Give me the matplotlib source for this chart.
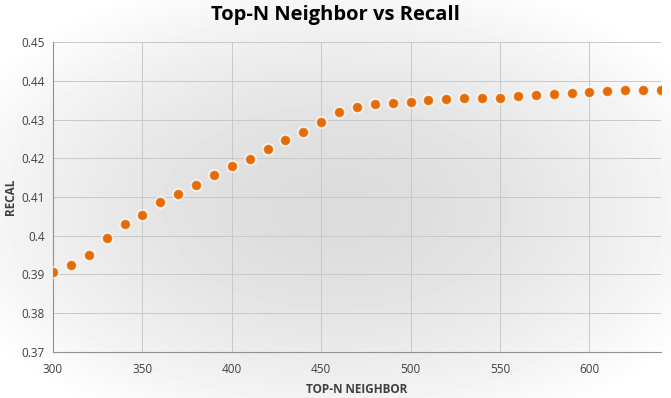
import numpy as np
import matplotlib
matplotlib.use("Agg")
import matplotlib.pyplot as plt

# top-N neighbor vs recall values
top_n = [300, 310, 320, 330, 340, 350, 360, 370, 380, 390,
         400, 410, 420, 430, 440, 450, 460, 470, 480, 490,
         500, 510, 520, 530, 540, 550, 560, 570, 580, 590,
         600, 610, 620, 630, 640]
recall = [0.3906, 0.3924, 0.3949, 0.3993, 0.4029, 0.4054, 0.4086, 0.4108, 0.4131, 0.4158,
          0.4181, 0.4197, 0.4223, 0.4246, 0.4269, 0.4295, 0.4320, 0.4332, 0.4340, 0.4343,
          0.4346, 0.4350, 0.4353, 0.4356, 0.4356, 0.4356, 0.4361, 0.4364, 0.4367, 0.4369,
          0.4372, 0.4374, 0.4377, 0.4377, 0.4377]
x_ticks = [300, 350, 400, 450, 500, 550, 600]
y_ticks = [0.37, 0.38, 0.39, 0.4, 0.41, 0.42, 0.43, 0.44, 0.45]
y_tick_labels = ['0.37', '0.38', '0.39', '0.4', '0.41', '0.42', '0.43', '0.44', '0.45']

plt.rcParams['font.family'] = ['Open Sans', 'DejaVu Sans']

fig = plt.figure(figsize=(6.71, 3.98), dpi=100)

# radial grey-to-white background
bg = fig.add_axes([0, 0, 1, 1], zorder=-10)
w, h = 671, 398
yy, xx = np.mgrid[0:h, 0:w]
r = np.sqrt(((xx - w * 0.5) / (w * 0.62)) ** 2 + ((yy - h * 0.52) / (h * 0.62)) ** 2)
shade = 0.86 + 0.14 * np.clip(r, 0, 1) ** 1.6
bg.imshow(shade, cmap='gray', vmin=0, vmax=1, aspect='auto', interpolation='bilinear')
bg.axis('off')

ax = fig.add_axes([0.079, 0.116, 0.906, 0.778])
ax.patch.set_alpha(0)

# soft white halo, then orange dots
ax.scatter(top_n, recall, s=85, color='white', alpha=0.7, zorder=3, linewidths=0)
ax.scatter(top_n, recall, s=42, color='#E36C09', edgecolors='#F08A30', linewidths=0.5, zorder=4)

ax.set_xlim(300, 640)
ax.set_ylim(0.37, 0.45)
ax.set_xticks(x_ticks)
ax.set_yticks(y_ticks)
ax.set_yticklabels(y_tick_labels)
ax.tick_params(length=0, labelsize=8.5, colors='#404040')
ax.tick_params(axis='x', pad=8)
ax.tick_params(axis='y', pad=6)
ax.grid(True, color='#c8c8c8', linewidth=0.7)
ax.set_axisbelow(True)
for side in ['top', 'right']:
    ax.spines[side].set_visible(False)
for side in ['left', 'bottom']:
    ax.spines[side].set_color('#909090')
    ax.spines[side].set_linewidth(0.8)

ax.set_xlabel('TOP-N NEIGHBOR', fontsize=8.5, fontweight='bold', color='#404040', labelpad=5)
ax.set_ylabel('RECAL', fontsize=8.5, fontweight='bold', color='#404040', labelpad=3)
fig.text(0.5, 0.962, 'Top-N Neighbor vs Recall', ha='center', va='center',
         fontsize=14.5, fontweight='bold', color='black')

fig.savefig('out.png', dpi=100)
